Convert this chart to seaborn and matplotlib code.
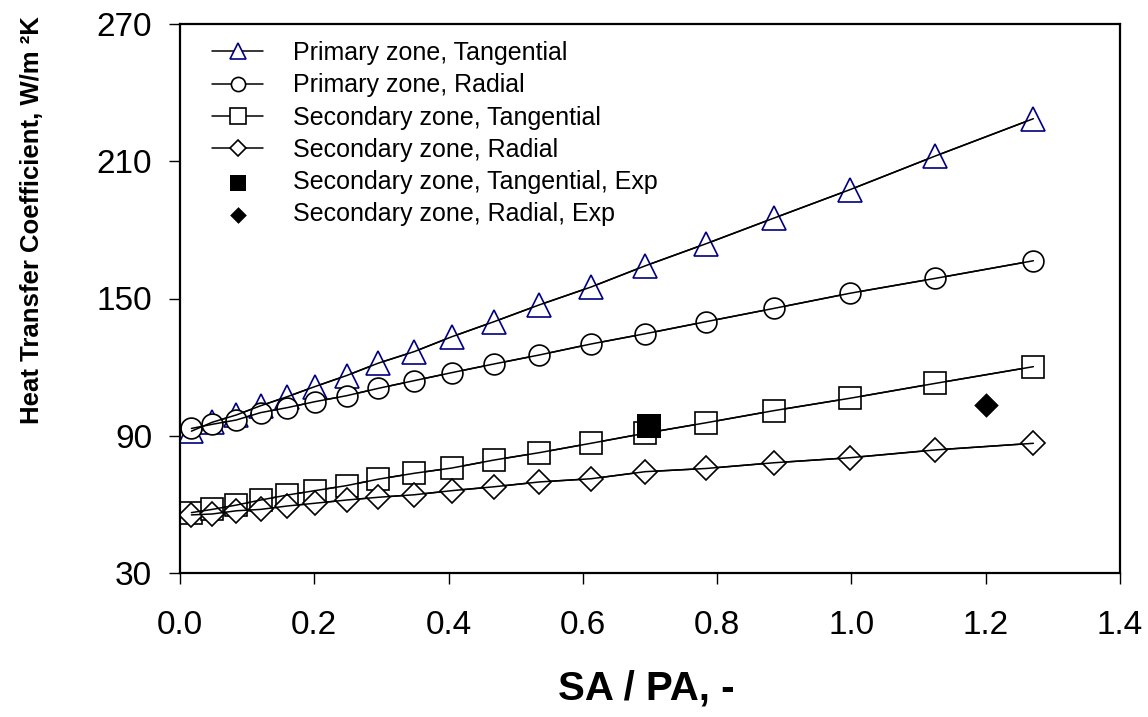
import numpy as np
import pandas as pd
import seaborn as sns
import matplotlib.pyplot as plt


# SA/PA ratio values (shared by all four model series)
sa_pa = [0.017, 0.048, 0.084, 0.120, 0.160, 0.201, 0.248, 0.295, 0.349, 0.405,
         0.468, 0.535, 0.612, 0.693, 0.784, 0.885, 0.998, 1.125, 1.271]

primary_tangential = [92.0, 95.9, 99.1, 103.1, 107.1, 111.5, 116.3, 121.7, 126.8, 133.3,
                      139.9, 147.2, 155.0, 164.3, 174.0, 185.2, 197.6, 212.3, 228.6]
primary_radial = [93.2, 95.0, 96.9, 100.1, 102.3, 104.9, 107.5, 110.7, 114.1, 117.6,
                  121.4, 125.3, 130.1, 134.6, 139.9, 145.7, 152.3, 158.8, 166.5]
secondary_tangential = [56.4, 57.8, 59.7, 61.9, 64.1, 66.0, 68.2, 71.0, 73.6, 75.9,
                        79.4, 82.6, 86.7, 91.1, 95.7, 101.0, 106.4, 112.9, 120.2]
secondary_radial = [55.4, 55.8, 57.2, 57.8, 59.3, 60.5, 61.9, 63.1, 64.2, 66.0,
                    67.7, 69.8, 71.2, 74.3, 75.7, 78.2, 80.4, 83.8, 86.7]

# experimental points
exp_tangential_x = [0.699]
exp_tangential_y = [94.3]
exp_radial_x = [1.201]
exp_radial_y = [103.4]

labels = ["Primary zone, Tangential", "Primary zone, Radial",
          "Secondary zone, Tangential", "Secondary zone, Radial",
          "Secondary zone, Tangential, Exp", "Secondary zone, Radial, Exp"]


def plot_chart():
    sns.set_theme(style="ticks")
    plt.rcParams["font.family"] = ["Liberation Sans", "DejaVu Sans"]
    plt.rcParams["text.color"] = "black"
    plt.rcParams["axes.labelcolor"] = "black"

    fig = plt.figure(figsize=(11.48, 7.17), dpi=100)
    ax = fig.add_axes([180 / 1148, 144 / 717, 940 / 1148, 549 / 717])

    series = [
        (primary_tangential, "^", 17, "#000080"),
        (primary_radial, "o", 15, "black"),
        (secondary_tangential, "s", 16, "black"),
        (secondary_radial, "D", 12, "black"),
    ]
    for i, (vals, mk, ms, ec) in enumerate(series):
        sns.lineplot(x=sa_pa, y=vals, ax=ax, color="black", linewidth=1.1,
                     marker=mk, markersize=ms, markerfacecolor="white",
                     markeredgecolor=ec, markeredgewidth=1.2,
                     label=labels[i], zorder=2 + i * 0.1)

    sns.scatterplot(x=exp_tangential_x, y=exp_tangential_y, ax=ax, marker="s",
                    s=17 ** 2, color="black", edgecolor="black", linewidth=0,
                    label=labels[4], zorder=3)
    sns.scatterplot(x=exp_radial_x, y=exp_radial_y, ax=ax, marker="D",
                    s=12.5 ** 2, color="black", edgecolor="black", linewidth=0,
                    label=labels[5], zorder=3)

    # trend lines drawn over the open markers
    for vals, _, _, _ in series:
        sns.lineplot(x=sa_pa, y=vals, ax=ax, color="black", linewidth=1.1,
                     zorder=4, legend=False)

    ax.set_xlim(0, 1.4)
    ax.set_ylim(30, 270)
    ax.set_xticks(np.arange(0, 1.41, 0.2))
    ax.set_yticks([30, 90, 150, 210, 270])
    ax.xaxis.set_major_formatter(plt.FormatStrFormatter("%.1f"))

    for sp in ax.spines.values():
        sp.set_visible(True)
        sp.set_color("black")
        sp.set_linewidth(1.6)

    ax.tick_params(axis="both", direction="out", length=8, width=1,
                   color="black", labelsize=24, labelcolor="black")
    ax.tick_params(axis="x", pad=19)
    ax.tick_params(axis="y", pad=12)

    ax.set_xlabel("SA / PA, -", fontsize=29, fontweight="bold")
    ax.set_ylabel("Heat Transfer Coefficient, W/m \u00b2K", fontsize=18.5,
                  fontweight="bold")
    ax.xaxis.set_label_coords(0.496, -0.175)
    ax.yaxis.set_label_coords(-0.145, 0.643)

    ax.legend(loc="upper left", bbox_to_anchor=(0.0234, 0.987),
              borderaxespad=0, frameon=False, fontsize=18, markerscale=0.68,
              handlelength=2.05, handletextpad=1.2, labelspacing=0.33,
              borderpad=0.4)

    fig.savefig("out.png", dpi=100, facecolor="white")


plot_chart()
